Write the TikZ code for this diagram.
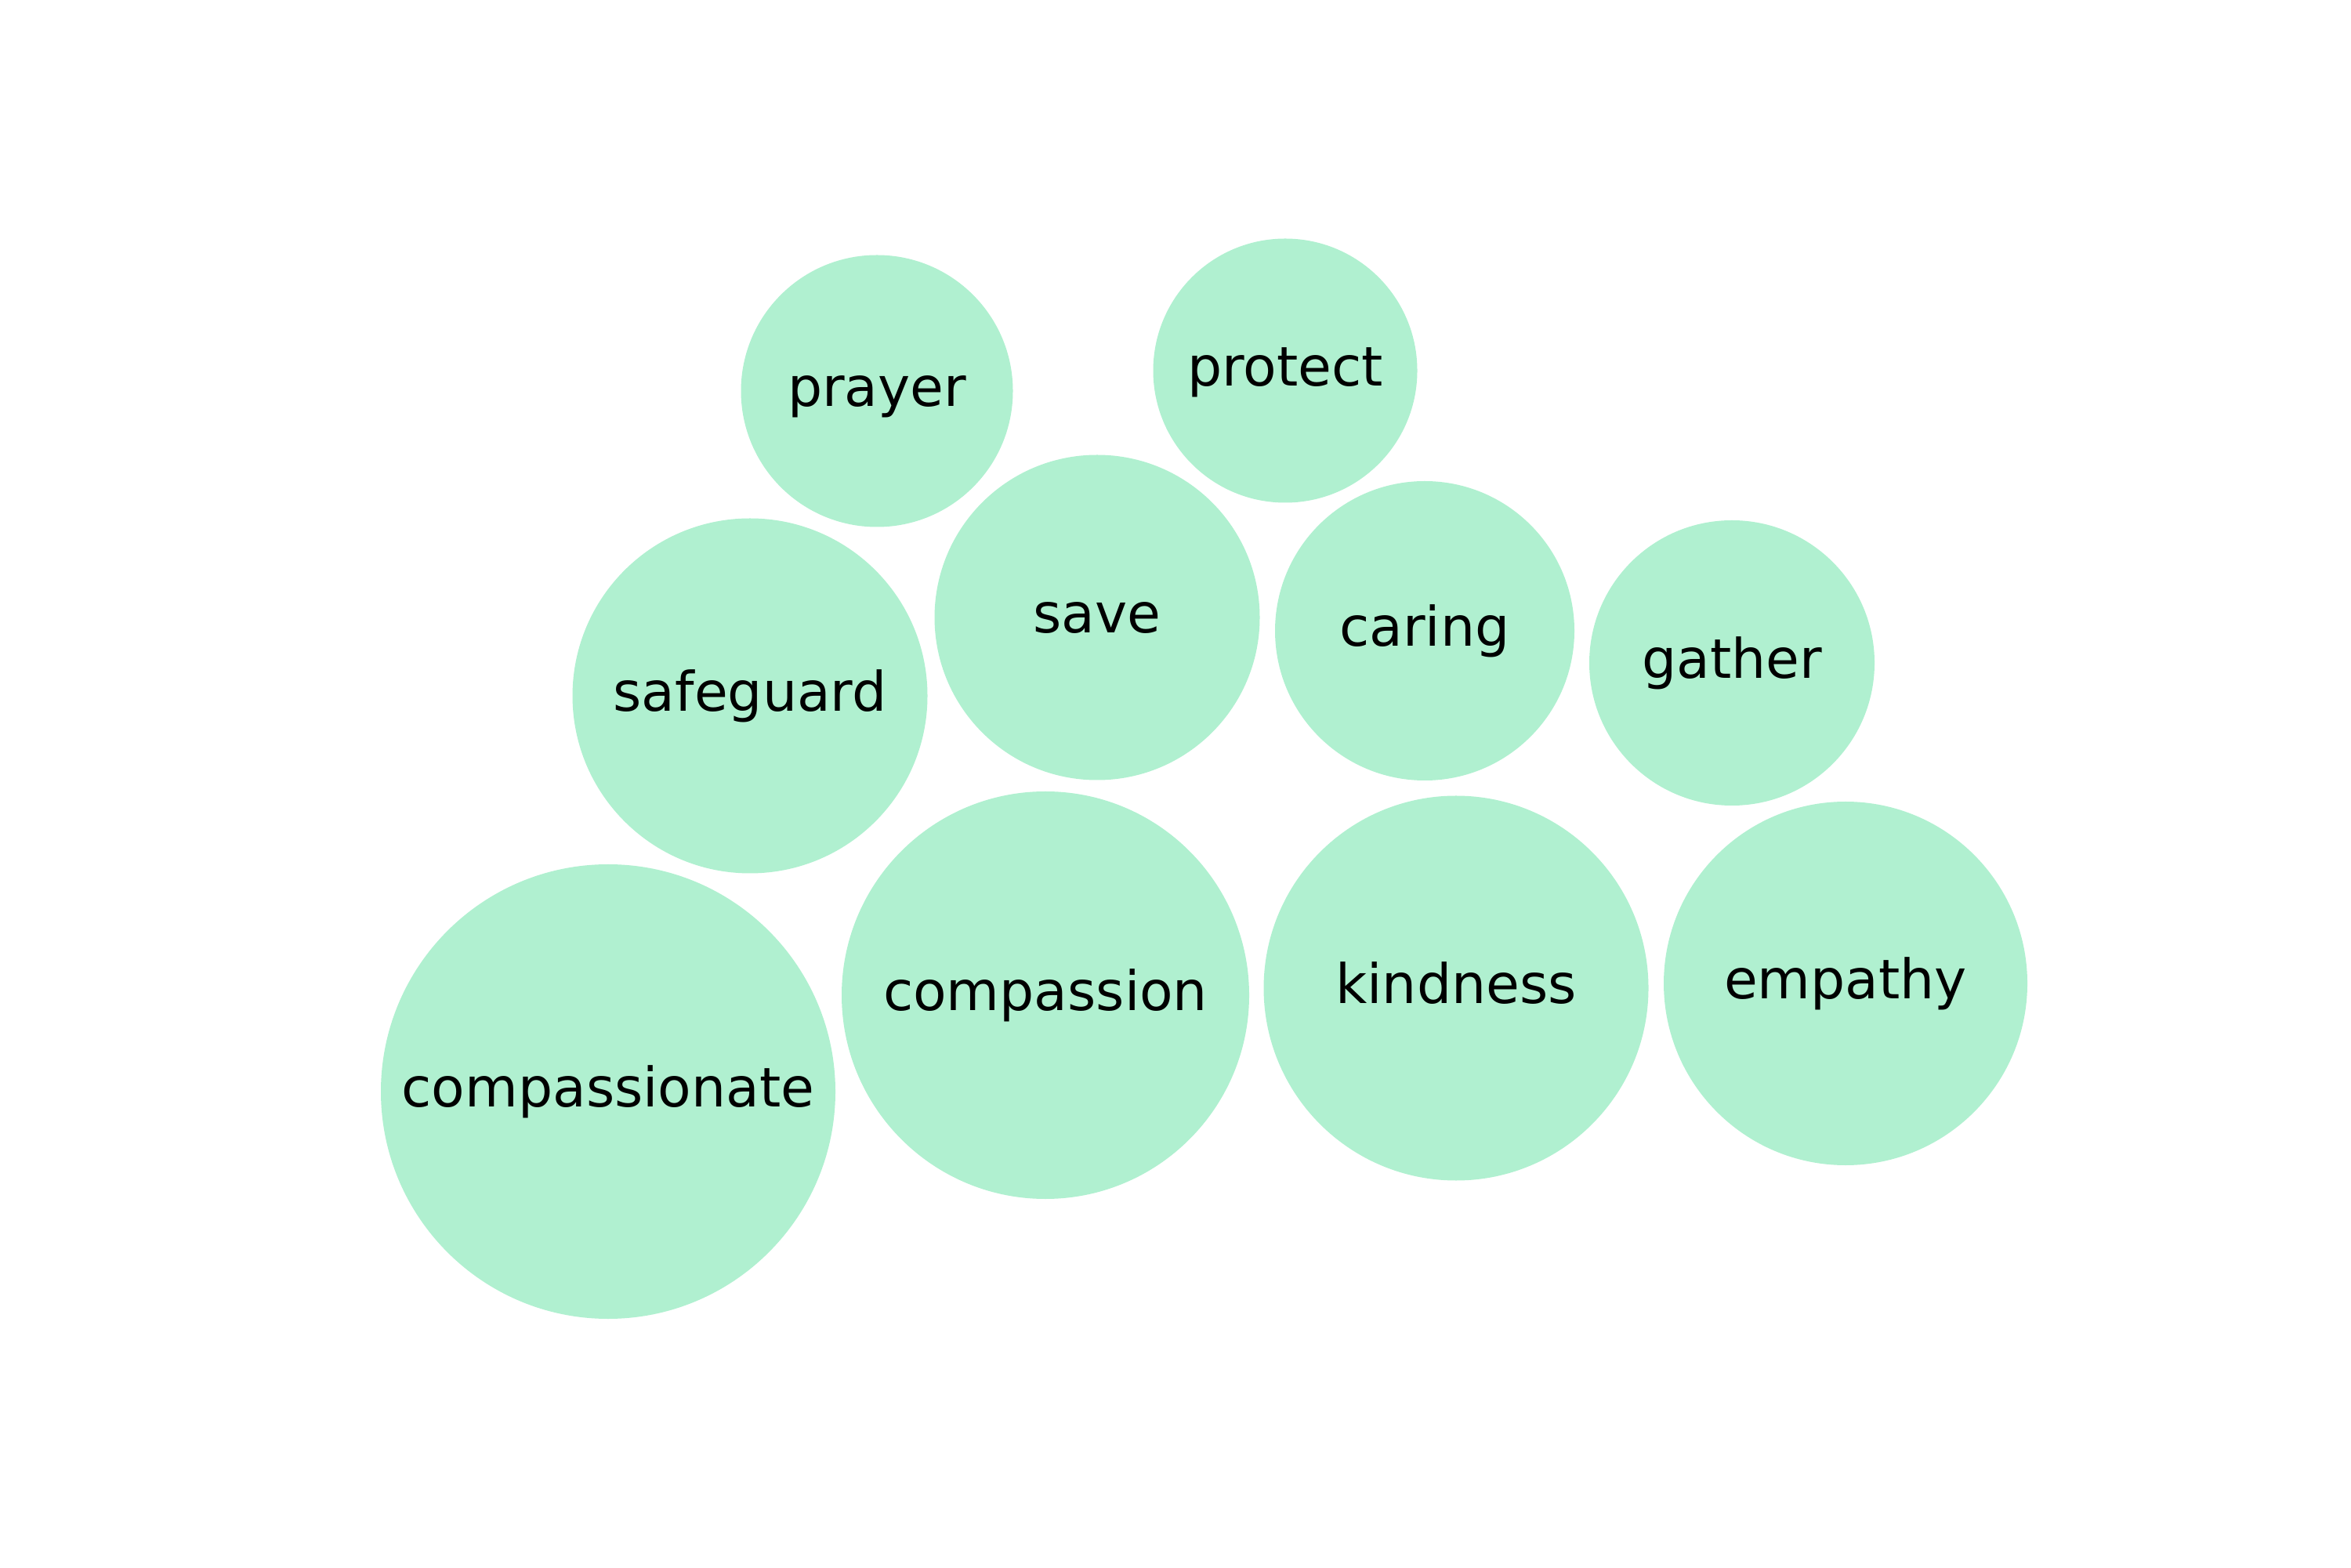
\documentclass[tikz,border=0pt]{standalone}
\usepackage{fontspec}
\setmainfont{DejaVu Sans}
\usepackage{xcolor}
\usepackage{tikz}
\definecolor{bubblegreen}{HTML}{B0F0D0}

\begin{document}
\begin{tikzpicture}[
        bubble/.style={circle,fill=bubblegreen,inner sep=0pt,minimum size=#1,
            text height=14.2pt,text depth=3pt,font=\fontsize{19.8}{23}\selectfont}]
        \useasboundingbox (0,0) rectangle (30,20);
        \node[bubble=5.80cm] (compassionate) at (7.76,6.07) {compassionate};
        \node[bubble=5.20cm] (compassion) at (13.34,7.30) {compassion};
        \node[bubble=4.91cm] (kindness) at (18.58,7.39) {kindness};
        \node[bubble=4.64cm] (empathy) at (23.55,7.45) {empathy};
        \node[bubble=4.53cm] (safeguard) at (9.57,11.12) {safeguard};
        \node[bubble=4.15cm] (save) at (14.00,12.12) {save};
        \node[bubble=3.82cm] (caring) at (18.18,11.95) {caring};
        \node[bubble=3.64cm] (gather) at (22.10,11.54) {gather};
        \node[bubble=3.47cm] (prayer) at (11.19,15.01) {prayer};
        \node[bubble=3.37cm] (protect) at (16.40,15.27) {protect};
    \end{tikzpicture}
\end{document}
